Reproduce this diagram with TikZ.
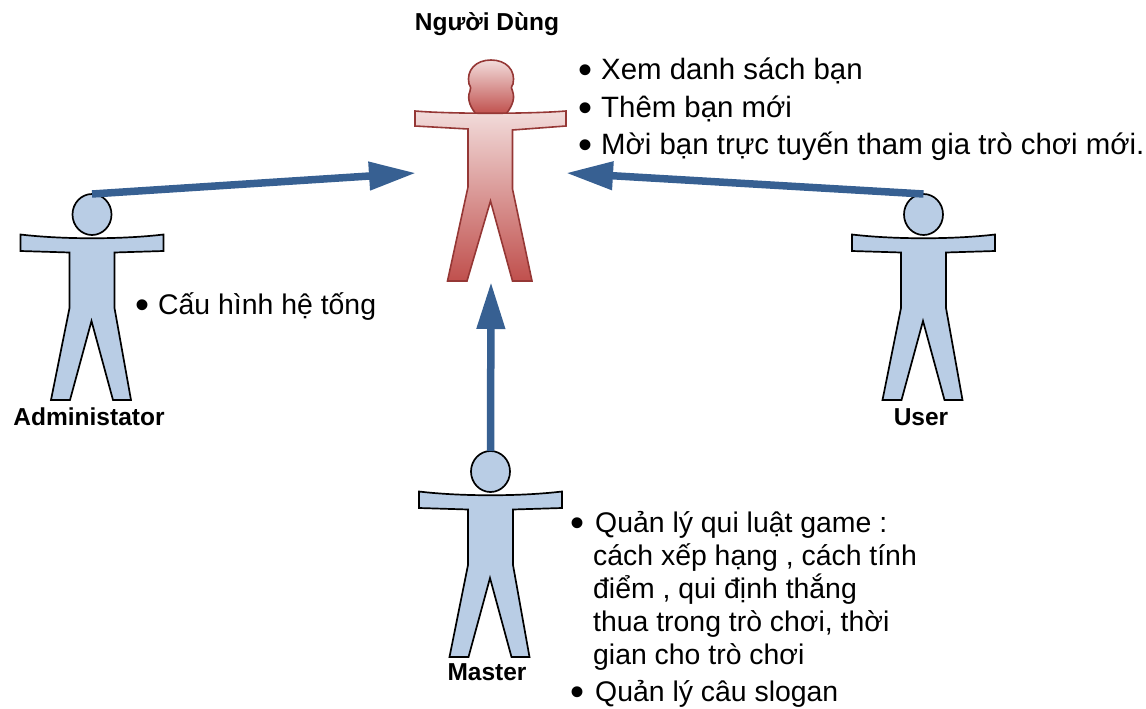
\documentclass[tikz,border=0pt]{standalone}
\usepackage{fontspec}
\setmainfont{Liberation Sans}
\usetikzlibrary{shapes.geometric}
\usetikzlibrary{arrows.meta}
\usetikzlibrary{positioning}
\definecolor{actorblue}{HTML}{B9CDE5}
\definecolor{arrowblue}{HTML}{376092}
\definecolor{redline}{HTML}{953735}
\definecolor{redtop}{HTML}{F2DCDB}
\definecolor{redbottom}{HTML}{C0504D}
\newcommand{\bul}[1][23pt]{\makebox[#1][l]{\smash{\raisebox{-4pt}{\fontsize{40}{40}\selectfont\textbullet}}}}
\begin{document}
\begin{tikzpicture}[x=1pt,y=-1pt,
            actorline/.style = {draw=black,line width=1.7pt,fill=actorblue,line join=miter},
            actorhead/.style = {ellipse,actorline,minimum width=39pt,minimum height=41pt,
                inner sep=0pt,outer sep=0pt},
            redshape/.style = {draw=redline,line width=1.6pt,top color=redtop,bottom color=redbottom},
            flow/.style = {draw=arrowblue,line width=7.5pt,
                -{Triangle[length=47pt,width=27pt]}},
            rolename/.style = {font=\bfseries\fontsize{24.5}{26}\selectfont,inner sep=0pt},
            tasklist/.style = {font=\fontsize{28.4}{33}\selectfont,align=left,inner sep=0pt,
                anchor=north west}]
            \useasboundingbox (0,0) rectangle (1146,709);
            % the three actors
            \foreach \nm/\cx/\cy in {admin/92/214.5,user/923.5/214.5,master/490.5/471.5}{
                \draw[actorline,shift={(\cx,\cy)}] (-71.5,20) .. controls (-30,25) and (30,25) .. (71.5,20)
                    -- (71.5,36.5) -- (22.5,38) -- (22.5,93.5) -- (39,185.5) -- (21,185.5)
                    -- (-0.5,106.5) -- (-22,185.5) -- (-41,185.5) -- (-22.5,93.5) -- (-22.5,38)
                    -- (-71.5,36.5) -- cycle;
                \node[actorhead] (\nm head) at (\cx,\cy) {};
            }
            % shared role
            \draw[redshape] (469,84) .. controls (466,70) and (476,60) .. (491,60)
                .. controls (506,60) and (516,70) .. (513,84)
                .. controls (511,87) and (511,89) .. (512.5,91)
                .. controls (516,100) and (510,109) .. (506,114)
                -- (476,114) .. controls (472,109) and (466,100) .. (470,91)
                .. controls (471,89) and (471,87) .. (469,84) -- cycle;
            \draw[redshape] (415,111) .. controls (450,114) and (530,114) .. (566,111)
                -- (566,126) -- (512.5,130) -- (512.5,189) -- (532,281) -- (512.5,281)
                -- (490.5,201) -- (467,281) -- (447.5,281) -- (468,187) -- (468,129)
                -- (415,126) -- cycle;
            \node[inner sep=0pt,outer sep=0pt,minimum width=150pt,minimum height=218pt]
                (nguoidung) at (491,173) {};
            \draw[flow] (adminhead.north) -- (nguoidung.west);
            \draw[flow] (userhead.north) -- (nguoidung.east);
            \draw[flow] (masterhead.north) -- (nguoidung.south);
            % names
            \node[rolename] (nguoidunglabel) at (487,24) {Người Dùng};
            \node[rolename] (adminlabel) at (89,417) {Administator};
            \node[rolename] (userlabel) at (921,417) {User};
            \node[rolename] (masterlabel) at (487,672) {Master};
            % what each role can do
            \node[tasklist,font=\fontsize{29.4}{33}\selectfont] (nguoidungtasks) at (578,58)
                {\bul Xem danh sách bạn\\[4.5pt]
                \bul Thêm bạn mới\\[4.5pt]
                \bul Mời bạn trực tuyến tham gia trò chơi mới.};
            \node[tasklist] (admintasks) at (135,292) {\bul Cấu hình hệ tống};
            \node[tasklist] (mastertasks) at (570,511) {\bul[25pt]Quản lý qui luật game :\\
                \hspace*{23pt}cách xếp hạng , cách tính\\
                \hspace*{23pt}điểm , qui định thắng\\
                \hspace*{23pt}thua trong trò chơi, thời\\
                \hspace*{23pt}gian cho trò chơi\\[4pt]
                \bul[25pt]Quản lý câu slogan};
        \end{tikzpicture}
\end{document}
